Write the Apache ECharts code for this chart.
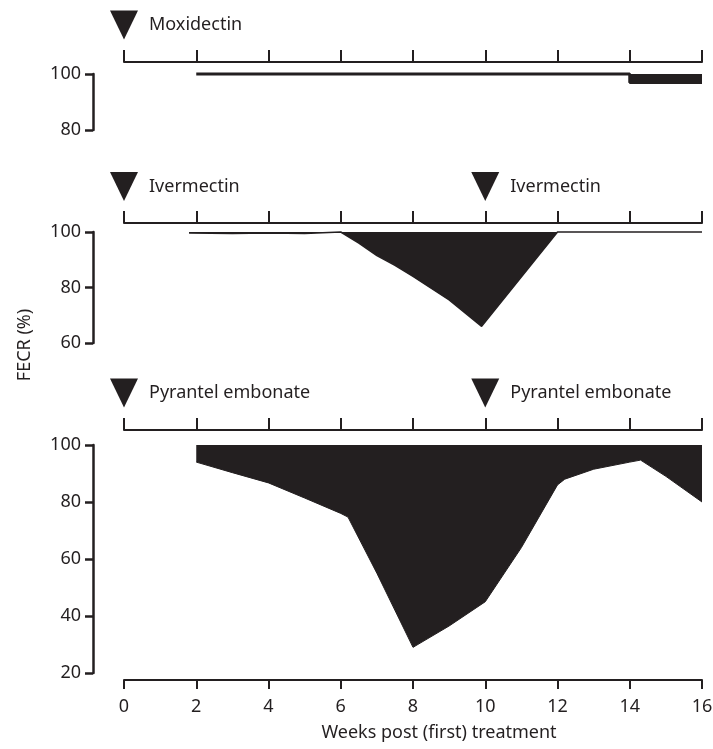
<!DOCTYPE html>
<html>
<head>
<meta charset="utf-8">
<script src="https://cdn.jsdelivr.net/npm/echarts@6/dist/echarts.min.js"></script>
<style>
  html, body { margin: 0; padding: 0; background: #fff; }
  #chart { width: 713px; height: 749px; }
</style>
</head>
<body>
<div id="chart"></div>
<script>
// FECR (%) per week
var moxidectinWeeks = [2, 4, 6, 8, 10, 12, 14, 14, 16];
var moxidectinFecr = [100, 100, 100, 100, 100, 100, 100, 97, 97];

var ivermectinWeeks = [1.8, 3, 4, 5, 6, 6.5, 7, 7.5, 8, 9, 9.9, 12, 14, 16];
var ivermectinFecr = [99.6, 99.5, 99.6, 99.5, 100, 96, 91.5, 88, 84, 75.5, 66, 100, 100, 100];

var pyrantelWeeks = [2, 3, 4, 5, 6, 6.2, 7, 8, 9, 10, 11, 12, 12.2, 13, 14, 14.3, 15, 16];
var pyrantelFecr = [94, 90.3, 86.7, 81.4, 76, 74.7, 55, 29, 36.5, 45, 64, 86, 88, 91.5, 94, 94.7, 89, 80];

// treatment markers
var moxidectinDoses = [0];
var moxidectinNames = ['Moxidectin'];
var ivermectinDoses = [0, 10];
var ivermectinNames = ['Ivermectin', 'Ivermectin'];
var pyrantelDoses = [0, 10];
var pyrantelNames = ['Pyrantel embonate', 'Pyrantel embonate'];

var ink = '#231f20';
var font = 'Noto Sans';

function pairs(xs, ys) {
    return xs.map(function (x, i) { return [x, ys[i]]; });
}

function doseData(weeks, names) {
    return weeks.map(function (w, i) { return { value: [w, 0.5], name: names[i] }; });
}

// horizontal timeline over each panel, ticks pointing up
function timelineAxis(gridIndex, offset) {
    return {
        gridIndex: gridIndex, type: 'value', position: 'top', offset: offset,
        min: 0, max: 16, interval: 2,
        axisLine: { show: true, onZero: false, lineStyle: { color: ink, width: 2 } },
        axisTick: { show: true, inside: false, length: 12, lineStyle: { color: ink, width: 2 } },
        axisLabel: { show: false },
        splitLine: { show: false }
    };
}

function fecrAxis(gridIndex, min) {
    return {
        gridIndex: gridIndex, type: 'value', position: 'left', offset: 31,
        min: min, max: 100, interval: 20,
        axisLine: { show: true, onZero: false, lineStyle: { color: ink, width: 2.5 } },
        axisTick: { show: true, inside: false, length: 8, lineStyle: { color: ink, width: 2.5 } },
        axisLabel: { color: ink, fontSize: 18, fontFamily: font, margin: 12 },
        splitLine: { show: false }
    };
}

function hiddenAxis(gridIndex, min, max) {
    return { gridIndex: gridIndex, type: 'value', min: min, max: max, show: false };
}

function fecrSeries(axisIndex, data, lineWidth) {
    return {
        type: 'line', xAxisIndex: axisIndex, yAxisIndex: axisIndex,
        data: data, symbol: 'none', clip: false,
        lineStyle: { color: ink, width: lineWidth },
        areaStyle: { color: ink, opacity: 1, origin: 'end' }
    };
}

function doseSeries(gridIndex, data) {
    return {
        type: 'scatter', xAxisIndex: gridIndex, yAxisIndex: gridIndex,
        data: data, clip: false,
        symbol: 'triangle', symbolSize: [28, 29], symbolRotate: 180,
        itemStyle: { color: ink, opacity: 1 },
        label: {
            show: true, position: 'right', distance: 11,
            formatter: '{b}', color: ink, fontSize: 18, fontFamily: font
        }
    };
}

var grids = [
    { left: 124, width: 578, top: 74, height: 56 },
    { left: 124, width: 578, top: 232, height: 111 },
    { left: 124, width: 578, top: 445, height: 228 },
    { left: 124, width: 578, top: 10, height: 30 },
    { left: 124, width: 578, top: 172, height: 29 },
    { left: 124, width: 578, top: 378, height: 30 }
];
grids.forEach(function (g) { g.outerBoundsMode = 'none'; });

var xAxes = [
    timelineAxis(0, 12),
    timelineAxis(1, 9),
    timelineAxis(2, 15),
    hiddenAxis(3, 0, 16),
    hiddenAxis(4, 0, 16),
    hiddenAxis(5, 0, 16),
    {
        gridIndex: 2, type: 'value', position: 'bottom', offset: 7,
        min: 0, max: 16, interval: 2,
        axisLine: { show: true, onZero: false, lineStyle: { color: ink, width: 2 } },
        axisTick: { show: true, inside: false, length: 9, lineStyle: { color: ink, width: 2 } },
        axisLabel: { color: ink, fontSize: 18, fontFamily: font, margin: 18 },
        splitLine: { show: false }
    }
];

var yAxes = [
    fecrAxis(0, 80),
    fecrAxis(1, 60),
    fecrAxis(2, 20),
    hiddenAxis(3, 0, 1),
    hiddenAxis(4, 0, 1),
    hiddenAxis(5, 0, 1)
];

var option = {
    animation: false,
    backgroundColor: '#fff',
    grid: grids,
    xAxis: xAxes,
    yAxis: yAxes,
    graphic: [
        {
            type: 'text', x: 25, y: 345, rotation: Math.PI / 2,
            style: { text: 'FECR (%)', fill: ink, fontSize: 18, fontFamily: font, align: 'center', verticalAlign: 'middle' }
        },
        {
            type: 'text', x: 439, y: 733,
            style: { text: 'Weeks post (first) treatment', fill: ink, fontSize: 18, fontFamily: font, align: 'center', verticalAlign: 'middle' }
        }
    ],
    series: [
        fecrSeries(0, pairs(moxidectinWeeks, moxidectinFecr), 3),
        fecrSeries(1, pairs(ivermectinWeeks, ivermectinFecr), 1.5),
        fecrSeries(2, pairs(pyrantelWeeks, pyrantelFecr), 1),
        doseSeries(3, doseData(moxidectinDoses, moxidectinNames)),
        doseSeries(4, doseData(ivermectinDoses, ivermectinNames)),
        doseSeries(5, doseData(pyrantelDoses, pyrantelNames))
    ]
};

var chart = echarts.init(document.getElementById('chart'));
chart.setOption(option);
</script>
</body>
</html>
